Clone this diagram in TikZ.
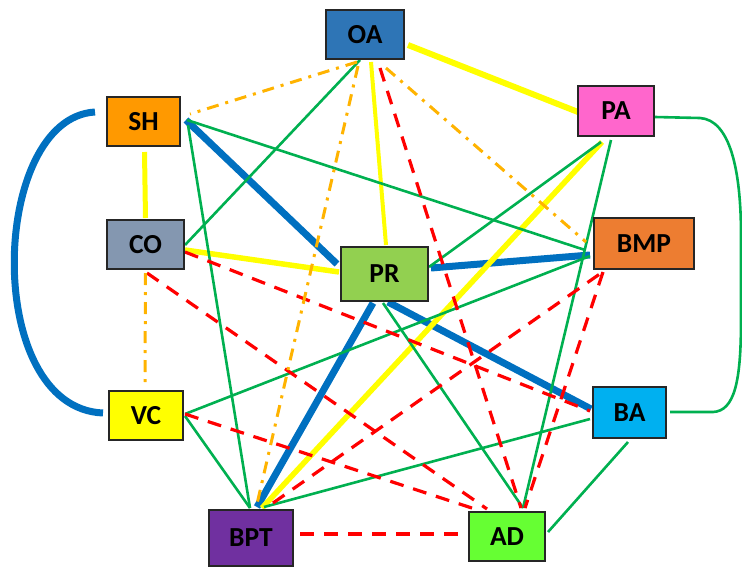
\documentclass[tikz,border=0pt]{standalone}
\usepackage{fontspec}
\setmainfont{Carlito}
\usetikzlibrary{backgrounds}

\definecolor{cOA}{HTML}{2E75B6}
\definecolor{cSH}{HTML}{FF9900}
\definecolor{cPA}{HTML}{FF66CC}
\definecolor{cCO}{HTML}{8497B0}
\definecolor{cPR}{HTML}{92D050}
\definecolor{cBMP}{HTML}{ED7D31}
\definecolor{cVC}{HTML}{FFFF00}
\definecolor{cBPT}{HTML}{7030A0}
\definecolor{cAD}{HTML}{66FF33}
\definecolor{cBA}{HTML}{00B0F0}
\definecolor{boxline}{HTML}{262626}
\definecolor{lBlue}{HTML}{0070C0}
\definecolor{lGreen}{HTML}{00B050}
\definecolor{lYellow}{HTML}{FFFF00}
\definecolor{lRed}{HTML}{FF0000}
\definecolor{lGold}{HTML}{FFB300}

\begin{document}
\begin{tikzpicture}[x=1pt,y=-1pt,
  box/.style={draw=boxline, line width=1.3pt, inner sep=0pt, outer sep=0pt,
    text=black, font=\bfseries\fontsize{27.5}{27.5}\selectfont},
  bline/.style={draw=lBlue, line width=7pt},
  yline/.style={draw=lYellow, line width=#1},
  yline/.default=5.5pt,
  gline/.style={draw=lGreen, line width=2.6pt},
  rdash/.style={draw=lRed, line width=3.2pt, dash pattern=on 14pt off 10pt},
  odot/.style={draw=lGold, line width=3pt, dash pattern=on 12pt off 7pt on 3pt off 7pt}
]
\useasboundingbox (0,0) rectangle (742,568);

% factor boxes
\node[box, fill=cOA,  minimum width=78pt,  minimum height=49pt] (OA)  at (365,34.5)  {OA};
\node[box, fill=cSH,  minimum width=73pt,  minimum height=49pt] (SH)  at (143.5,121.5) {SH};
\node[box, fill=cPA,  minimum width=76pt,  minimum height=50pt] (PA)  at (616,111)   {PA};
\node[box, fill=cCO,  minimum width=77pt,  minimum height=49pt] (CO)  at (145.5,244.5) {CO};
\node[box, fill=cPR,  minimum width=87pt,  minimum height=54pt] (PR)  at (384.5,274) {PR};
\node[box, fill=cBMP, minimum width=100pt, minimum height=51pt] (BMP) at (644,243.5) {BMP};
\node[box, fill=cVC,  minimum width=74pt,  minimum height=49pt] (VC)  at (146,415.5) {VC};
\node[box, fill=cBPT, minimum width=84pt,  minimum height=56pt] (BPT) at (251,538)   {BPT};
\node[box, fill=cAD,  minimum width=76pt,  minimum height=49pt] (AD)  at (507,536.5) {AD};
\node[box, fill=cBA,  minimum width=73pt,  minimum height=51pt] (BA)  at (629.5,412.5) {BA};

\begin{scope}[on background layer]
% thick blue links
\draw[bline] ([shift={(-12,-9.5)}]SH.west) .. controls (-10,118) and (-18,408) .. ([shift={(-6,-2.5)}]VC.west);
\draw[bline] ([shift={(6,-1.5)}]SH.east) -- ([shift={(-4,-10)}]PR.west);
\draw[bline] ([shift={(3,-6)}]PR.east) -- ([shift={(-4,11.5)}]BMP.west);
\draw[bline] ([shift={(3.5,1)}]PR.south) -- ([shift={(-2,-3.5)}]BA.west);
\draw[bline] ([shift={(-11.5,2)}]PR.south) -- ([shift={(6,-3)}]BPT.north);

% yellow links
\draw[yline=5pt] ([shift={(1,6)}]SH.south) -- ([shift={(0,-2)}]CO.north);
\draw[yline=5.5pt] ([shift={(1,5.5)}]CO.east) -- ([shift={(-2,-2)}]PR.west);
\draw[yline=4pt] ([shift={(6,3)}]OA.south) -- ([shift={(1.5,-2)}]PR.north);
\draw[yline=6pt] ([shift={(4,10.5)}]OA.east) -- ([shift={(0,1)}]PA.west);
\draw[yline=5.5pt] ([shift={(-14,6)}]PA.south) -- ([shift={(11,-2)}]BPT.north);

% green links
\draw[gline] ([shift={(-5,1)}]OA.south) -- ([shift={(1,0.5)}]CO.east);
\draw[gline] ([shift={(7,-1.5)}]SH.east) -- ([shift={(-9,6.5)}]BMP.west);
\draw[gline] ([shift={(8,3.5)}]SH.east) -- ([shift={(-1,-2)}]BPT.north);
\draw[gline] ([shift={(-15,6)}]PA.south) -- ([shift={(1,-7)}]PR.east);
\draw[gline] ([shift={(-5,4)}]PA.south) -- ([shift={(16,-4)}]AD.north);
\draw[gline] ([shift={(1,6)}]PA.east) -- (700,118) .. controls (730,120) and (741,170) .. (741,235)
   -- (741,320) .. controls (741,380) and (735,411) .. (713,412) -- ([shift={(4,-0.5)}]BA.east);
\draw[gline] ([shift={(-1.5,2)}]PR.south) -- ([shift={(16,-4)}]AD.north);
\draw[gline] ([shift={(-4,12.5)}]BMP.west) -- ([shift={(2,-1.5)}]VC.east);
\draw[gline] ([shift={(2,0.5)}]VC.east) -- ([shift={(-1,-2)}]BPT.north);
\draw[gline] ([shift={(-3,6.5)}]BA.west) -- ([shift={(13,-3)}]BPT.north);
\draw[gline] ([shift={(-1.5,4)}]BA.south) -- ([shift={(3,-4.5)}]AD.east);

% red dashed links
\draw[rdash] ([shift={(15,9)}]OA.south) -- ([shift={(14,-4)}]AD.north);
\draw[rdash] ([shift={(1,7.5)}]CO.east) -- ([shift={(-3,-1.5)}]BA.west);
\draw[rdash] ([shift={(1.5,4)}]CO.south) -- ([shift={(-20,-3)}]AD.north);
\draw[rdash] ([shift={(2,-1.5)}]VC.east) -- ([shift={(-26,-1)}]AD.north);
\draw[rdash] ([shift={(22,-7)}]BPT.north) -- ([shift={(10,2)}]BMP.south west);
\draw[rdash] ([shift={(9,3)}]BMP.south west) -- ([shift={(18,-4)}]AD.north);
\draw[rdash] ([shift={(7,-4)}]BPT.east) -- ([shift={(-4,-2.5)}]AD.west);

% gold dash-dot links
\draw[odot] ([shift={(0,4)}]CO.south) -- ([shift={(-1,-8)}]VC.north);
\draw[odot] ([shift={(-8,3)}]OA.south) -- ([shift={(10,-7.5)}]SH.east);
\draw[odot] ([shift={(-7,7)}]OA.south) -- ([shift={(6,-6)}]BPT.north);
\draw[odot] ([shift={(21,9)}]OA.south) -- ([shift={(-8,-1.5)}]BMP.west);
\end{scope}
\end{tikzpicture}
\end{document}
